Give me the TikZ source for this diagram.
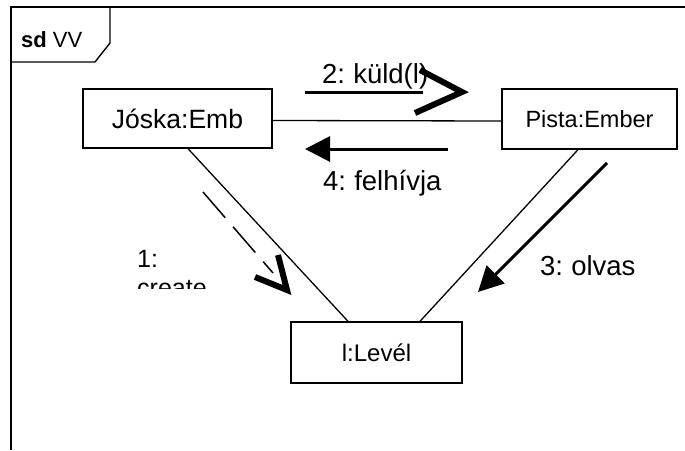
\documentclass[tikz,border=0pt]{standalone}
\usepackage{fontspec}
\setmainfont{Liberation Sans}
\usetikzlibrary{arrows.meta}
\tikzset{
  obj/.style={draw, line width=1.4pt, inner sep=0pt, anchor=center},
  assoc/.style={line width=1.3pt},
  msg/.style={line width=3pt},
  msgtip/.style={line width=6pt, miter limit=10, line join=miter},
  lbl/.style={anchor=base west, inner sep=0pt, font=\fontsize{27.5}{31}\selectfont},
}
\begin{document}
\begin{tikzpicture}[x=1pt,y=-1pt]
\useasboundingbox (0,0) rectangle (685,450);
% frame
\draw[line width=2.2pt] (11,450) -- (11,7) -- (685,7);
\draw[line width=1.4pt] (11,62) -- (95,62) -- (110,43) -- (110,7);
\node[anchor=base west, inner sep=0pt, font=\fontsize{22}{25}\selectfont] (title) at (21,47) {\textbf{sd} VV};
% objects
\node[obj, minimum width=189pt, minimum height=59pt, font=\fontsize{26.5}{30}\selectfont] (jos) at (177.5,118.5) {Jóska:Emb};
\node[obj, minimum width=175pt, minimum height=60pt, font=\fontsize{23.5}{27}\selectfont] (pis) at (589.5,119) {Pista:Ember};
\node[obj, minimum width=171pt, minimum height=61pt, font=\fontsize{24}{27}\selectfont] (lev) at (376.5,352.5) {l:Levél};
% links
\draw[assoc] ([yshift=-2pt]jos.east) -- ([yshift=-2pt]pis.west);
\draw[assoc] ([xshift=10.5pt]jos.south) -- ([xshift=-28.5pt]lev.north);
\draw[assoc] ([xshift=-11.5pt]pis.south) -- ([xshift=43.5pt]lev.north);
% message 2
\node[lbl] (m2) at (322,83) {2:\hspace{-2pt} küld(l)};
\coordinate (m2a) at (305,92);
\coordinate (m2b) at (423,92);
\draw[msg] (m2a) -- (m2b);
\coordinate (m2t) at (462,92);
\draw[msgtip] (420,70) -- (m2t) -- (415,113);
% message 4
\node[lbl] (m4) at (323,190) {4:\hspace{-2pt} felhívja};
\coordinate (m4a) at (448,149);
\coordinate (m4b) at (305,149);
\draw[msg, -{Triangle[length=25pt,width=25pt]}] (m4a) -- (m4b);
% message 3
\node[lbl] (m3) at (540,275) {3:\hspace{-2pt} olvas};
\coordinate (m3a) at (607,163);
\coordinate (m3b) at (478,292);
\draw[msg, -{Triangle[length=25pt,width=25pt]}] (m3a) -- (m3b);
% message 1
\begin{scope}
\clip (100,230) rectangle (220,288);
\node[anchor=base west, inner sep=0pt, font=\fontsize{25}{29}\selectfont] (m1) at (137,267) {1:};
\node[anchor=base west, inner sep=0pt, font=\fontsize{25}{29}\selectfont] (m1b) at (137,296) {create};
\end{scope}
\coordinate (m1a) at (203,192);
\coordinate (m1b) at (273,273);
\draw[line width=1.5pt, dash pattern=on 34pt off 12pt] (m1a) -- (m1b);
\coordinate (m1t) at (287,290);
\draw[msgtip] (255,277) -- (m1t) -- (278,255);
\end{tikzpicture}
\end{document}
